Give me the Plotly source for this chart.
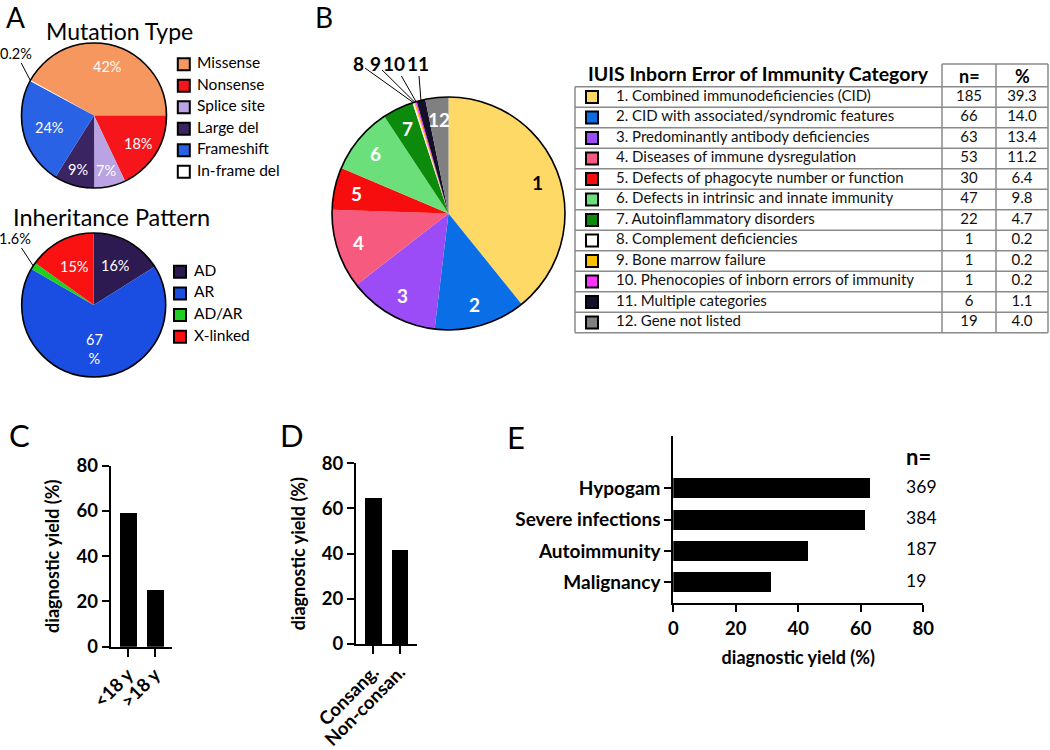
import numpy as np
import plotly.graph_objects as go

W, H = 1050, 750
FONT = 'Lato'

# ---------------- data ----------------
mut_labels = ['Missense', 'Nonsense', 'Splice site', 'Large del', 'Frameshift', 'In-frame del']
mut_pct = [42, 18, 7, 9, 24, 0.2]
mut_colors = ['#F5975F', '#F7151C', '#B9A3E3', '#3A2461', '#2A62E6', '#FFFFFF']

inh_labels = ['AD', 'AR', 'AD/AR', 'X-linked']
inh_pct = [16, 67, 1.6, 15]
inh_colors = ['#2D1A50', '#1A4DE2', '#1FCF1F', '#FA1212']

iuis_ids = list(range(1, 13))
iuis_names = ['Combined immunodeficiencies (CID)', 'CID with associated/syndromic features',
              'Predominantly antibody deficiencies', 'Diseases of immune dysregulation',
              'Defects of phagocyte number or function', 'Defects in intrinsic and innate immunity',
              'Autoinflammatory disorders', 'Complement deficiencies', 'Bone marrow failure',
              'Phenocopies of inborn errors of immunity', 'Multiple categories', 'Gene not listed']
iuis_n = [185, 66, 63, 53, 30, 47, 22, 1, 1, 1, 6, 19]
iuis_pct = ['39.3', '14.0', '13.4', '11.2', '6.4', '9.8', '4.7', '0.2', '0.2', '0.2', '1.1', '4.0']
# slice shares as drawn in the pie (%)
iuis_pie_share = [39.2, 12.7, 12.6, 11.0, 5.9, 9.3, 4.3, 0.2, 0.2, 0.2, 1.2, 3.2]
iuis_colors = ['#FFD966', '#0A6FE6', '#9B4CF7', '#F65A7E', '#F70D0D', '#6BE07A',
               '#0B8A0B', '#FFFFFF', '#FFC000', '#FF33FF', '#15102A', '#808080']
table_header = ['IUIS Inborn Error of Immunity Category', 'n=', '%']

age_groups = ['<18 y', '>18 y']
age_yield = [59.2, 25.1]
cons_groups = ['Consang.', 'Non-consan.']
cons_yield = [64.5, 41.6]
feat_labels = ['Hypogam', 'Severe infections', 'Autoimmunity', 'Malignancy']
feat_yield = [63.0, 61.3, 43.2, 31.3]
feat_n = [369, 384, 187, 19]

# ---------------- helpers ----------------
fig = go.Figure()
annotations = []
shapes = []


def dom(cx, cy, r):
    return dict(x=[(cx - r) / W, (cx + r) / W], y=[1 - (cy + r) / H, 1 - (cy - r) / H])


def slice_angles(values, rotation=0.0):
    v = np.asarray(values, float)
    c = np.concatenate([[0], np.cumsum(v)]) / v.sum() * 360 + rotation
    return c[:-1], c[1:], (c[:-1] + c[1:]) / 2


def on_circle(cx, cy, r, ang):
    a = np.radians(ang)
    return float(cx + r * np.sin(a)), float(cy - r * np.cos(a))


def fnt(size, color='black', bold=False):
    return dict(family=FONT, size=size, color=color, weight='bold' if bold else 'normal')


def label(x, y, text, size, color='black', bold=False, xanchor='center'):
    annotations.append(dict(x=x, y=y, xref='x5', yref='y5', text=text, showarrow=False,
                            xanchor=xanchor, yanchor='middle', font=fnt(size, color, bold)))


def leader(tip, pos, text, size, bold=False):
    annotations.append(dict(x=tip[0], y=tip[1], xref='x5', yref='y5', ax=pos[0], ay=pos[1],
                            axref='x5', ayref='y5', text=text, showarrow=True, arrowhead=0,
                            arrowwidth=1, arrowcolor='black', standoff=0, startstandoff=0,
                            font=fnt(size, 'black', bold)))


def hline(x0, x1, y, color, width):
    shapes.append(dict(type='line', xref='x5', yref='y5', x0=x0, x1=x1, y0=y, y1=y,
                       line=dict(color=color, width=width)))


def vline(x, y0, y1, color, width):
    shapes.append(dict(type='line', xref='x5', yref='y5', x0=x, x1=x, y0=y0, y1=y1,
                       line=dict(color=color, width=width)))


def pie(values, labels, colors, centre, rotation, name):
    d = dom(*centre)
    fig.add_trace(go.Pie(values=values, labels=labels, marker=dict(colors=colors, line=dict(width=0)),
                         sort=False, direction='clockwise', rotation=rotation, textinfo='none',
                         domain=d, showlegend=False, name=name, hoverinfo='label+value'))
    fig.add_trace(go.Pie(values=[1], labels=[' '], marker=dict(colors=['rgba(0,0,0,0)'],
                         line=dict(color='black', width=1.6)), sort=False, textinfo='none',
                         domain=d, showlegend=False, hoverinfo='skip'))


def squares(xs, ys, colors):
    fig.add_trace(go.Scatter(x=xs, y=ys, mode='markers', xaxis='x5', yaxis='y5',
                             marker=dict(symbol='square', size=12, color=colors,
                                         line=dict(color='black', width=2)),
                             hoverinfo='skip', showlegend=False, cliponaxis=False))


def texts(xs, ys, labels, size, pos='middle right', bold=False, color='black'):
    fig.add_trace(go.Scatter(x=xs, y=ys, mode='text', text=labels, xaxis='x5', yaxis='y5',
                             textposition=pos, textfont=fnt(size, color, bold),
                             hoverinfo='skip', showlegend=False, cliponaxis=False))


def legend_block(labels, colors, x_sq, y0, step, x_txt, size):
    n = len(labels)
    ys = [y0 + i * step for i in range(n)]
    squares([x_sq] * n, ys, colors)
    texts([x_txt] * n, ys, labels, size)


# ---------------- Panel A : mutation type ----------------
MUT = (94, 115.5, 72.5)
mut_rot = 90 - 360 * mut_pct[0] / sum(mut_pct)
pie(mut_pct, mut_labels, mut_colors, MUT, mut_rot, 'Mutation type')
_, _, mut_mid = slice_angles(mut_pct, mut_rot)
mut_text = [f'{v:g}%' for v in mut_pct]
mut_rf = [0.70, 0.72, 0.78, 0.78, 0.64]
for i, rf in enumerate(mut_rf):
    x, y = on_circle(MUT[0], MUT[1], MUT[2] * rf, mut_mid[i])
    label(x, y, mut_text[i], 14.5, 'white')
leader(on_circle(MUT[0], MUT[1], MUT[2], mut_mid[5]), (16, 53), mut_text[5], 14.5)
label(119.5, 31, 'Mutation Type', 23)
legend_block(mut_labels, mut_colors, 183.8, 64.2, 21.5, 197, 15.5)

# ---------------- Panel A : inheritance ----------------
INH = (93.7, 305, 72)
pie(inh_pct, inh_labels, inh_colors, INH, 0, 'Inheritance')
_, _, inh_mid = slice_angles(inh_pct, 0)
inh_text = [f'{v:g}%' for v in inh_pct]
inh_text[1] = inh_text[1].replace('%', '<br>%')
inh_rf = {0: 0.62, 1: 0.61, 3: 0.60}
for i, rf in inh_rf.items():
    x, y = on_circle(INH[0], INH[1], INH[2] * rf, inh_mid[i])
    label(x, y, inh_text[i], 14.5, 'white')
leader(on_circle(INH[0], INH[1], INH[2], inh_mid[2]), (15, 238), inh_text[2], 14.5)
label(111.5, 216.5, 'Inheritance Pattern', 23.5)
legend_block(inh_labels, inh_colors, 180, 271.7, 21.7, 194, 15.5)

# ---------------- Panel B : IUIS pie ----------------
IU = (448.5, 213.5, 116.5)
pie(iuis_pie_share, [str(i) for i in iuis_ids], iuis_colors, IU, 0, 'IUIS')
_, _, iu_mid = slice_angles(iuis_pie_share, 0)
for i in [0, 1, 2, 3, 4, 5, 6, 11]:
    x, y = on_circle(IU[0], IU[1], IU[2] * 0.81, iu_mid[i])
    label(x, y, str(iuis_ids[i]), 19, 'black' if i == 0 else 'white', bold=True)
small_pos = {7: (358, 63), 8: (375, 63), 9: (394, 63), 10: (418, 63)}
for i, pos in small_pos.items():
    leader(on_circle(IU[0], IU[1], IU[2], iu_mid[i]), pos, str(iuis_ids[i]), 19, bold=True)

# ---------------- Panel B : table ----------------
T_LEFT, C1, C2, T_RIGHT = 575, 942, 996, 1048
T_TOP, HEAD_H, ROW_H = 64, 22.7, 20.5
nrow = len(iuis_ids)
B_TOP = T_TOP + HEAD_H
T_BOTTOM = B_TOP + ROW_H * nrow
GRID = '#8A8A8A'
for k in range(nrow + 1):
    hline(T_LEFT, T_RIGHT, B_TOP + ROW_H * k, GRID, 1.5)
hline(C1, T_RIGHT, T_TOP, GRID, 1.5)
vline(T_LEFT, B_TOP, T_BOTTOM, GRID, 1.5)
for xv in (C1, C2, T_RIGHT):
    vline(xv, T_TOP, T_BOTTOM, GRID, 1.5)
row_y = [B_TOP + ROW_H * (i + 0.5) for i in range(nrow)]
squares([592] * nrow, row_y, iuis_colors)
texts([616] * nrow, row_y, [f'{i}. {nm}' for i, nm in zip(iuis_ids, iuis_names)], 15, color='#111111')
texts([(C1 + C2) / 2] * nrow, row_y, [str(v) for v in iuis_n], 15, pos='middle center', color='#111111')
texts([(C2 + T_RIGHT) / 2] * nrow, row_y, iuis_pct, 15, pos='middle center', color='#111111')
label(586, 73.5, table_header[0], 19.5, bold=True, xanchor='left')
label((C1 + C2) / 2, 76, table_header[1], 18, bold=True)
label((C2 + T_RIGHT) / 2, 76, table_header[2], 18, bold=True)

# ---------------- Panels C, D, E ----------------
fig.add_trace(go.Bar(x=age_groups, y=age_yield, width=0.63, marker=dict(color='black', line=dict(width=0)),
                     xaxis='x', yaxis='y', showlegend=False))
fig.add_trace(go.Bar(x=cons_groups, y=cons_yield, width=0.63, marker=dict(color='black', line=dict(width=0)),
                     xaxis='x2', yaxis='y2', showlegend=False))
fig.add_trace(go.Bar(y=feat_labels, x=feat_yield, orientation='h', width=0.64,
                     marker=dict(color='black', line=dict(width=0)),
                     xaxis='x3', yaxis='y3', showlegend=False))
N_X = 74.5
fig.add_trace(go.Scatter(x=[N_X] * len(feat_n), y=feat_labels, mode='text', text=[str(v) for v in feat_n],
                         textposition='middle right', textfont=fnt(17.5), xaxis='x3', yaxis='y3',
                         cliponaxis=False, showlegend=False, hoverinfo='skip'))
label(904, 456, 'n=', 22, bold=True, xanchor='left')

ax_common = dict(showgrid=False, zeroline=False, showline=True, linecolor='black', linewidth=2,
                 ticks='outside', tickcolor='black', tickwidth=2, ticklen=7, automargin=False,
                 tickfont=fnt(18.5, bold=True), fixedrange=True)
ytitle = dict(text='diagnostic yield (%)', font=fnt(18, bold=True), standoff=12)

for letter, (x, y, s) in {'A': (15, 17, 28), 'B': (323.5, 17, 28), 'C': (19, 435, 31),
                          'D': (292, 435, 31), 'E': (515.5, 437, 31)}.items():
    label(x, y, letter, s)

fig.update_layout(
    template='none',
    width=W, height=H, margin=dict(l=0, r=0, t=0, b=0, autoexpand=False),
    paper_bgcolor='white', plot_bgcolor='rgba(0,0,0,0)',
    font=dict(family=FONT, color='black'), showlegend=False, bargap=0,
    xaxis=dict(ax_common, domain=[110.7 / W, 172 / W], range=[-0.64, 1.63], type='category',
               tickangle=-45, ticklen=8, anchor='y'),
    yaxis=dict(ax_common, domain=[1 - 646.7 / H, 1 - 465.7 / H], range=[0, 80],
               tickvals=[0, 20, 40, 60, 80], anchor='x', title=ytitle),
    xaxis2=dict(ax_common, domain=[356 / W, 416.7 / W], range=[-0.65, 1.63], type='category',
                tickangle=-45, ticklen=8, anchor='y2'),
    yaxis2=dict(ax_common, domain=[1 - 644 / H, 1 - 463.3 / H], range=[0, 80],
                tickvals=[0, 20, 40, 60, 80], anchor='x2', title=ytitle),
    xaxis3=dict(ax_common, domain=[673.3 / W, 923.3 / W], range=[0, 80],
                tickvals=[0, 20, 40, 60, 80], anchor='y3',
                title=dict(text='diagnostic yield (%)', font=fnt(18, bold=True), standoff=14)),
    yaxis3=dict(ax_common, domain=[1 - 603.3 / H, 1 - 436 / H], type='category',
                categoryorder='array', categoryarray=feat_labels, range=[3.67, -1.67],
                anchor='x3', tickwidth=1.5, tickfont=fnt(19, bold=True)),
    xaxis5=dict(domain=[0, 1], range=[0, W], visible=False, fixedrange=True, anchor='y5'),
    yaxis5=dict(domain=[0, 1], range=[H, 0], visible=False, fixedrange=True, anchor='x5'),
    annotations=annotations,
    shapes=shapes,
)

fig.write_html('out.html', config={'displayModeBar': False},
               post_script="document.body.style.margin='0';document.body.style.padding='0';")
